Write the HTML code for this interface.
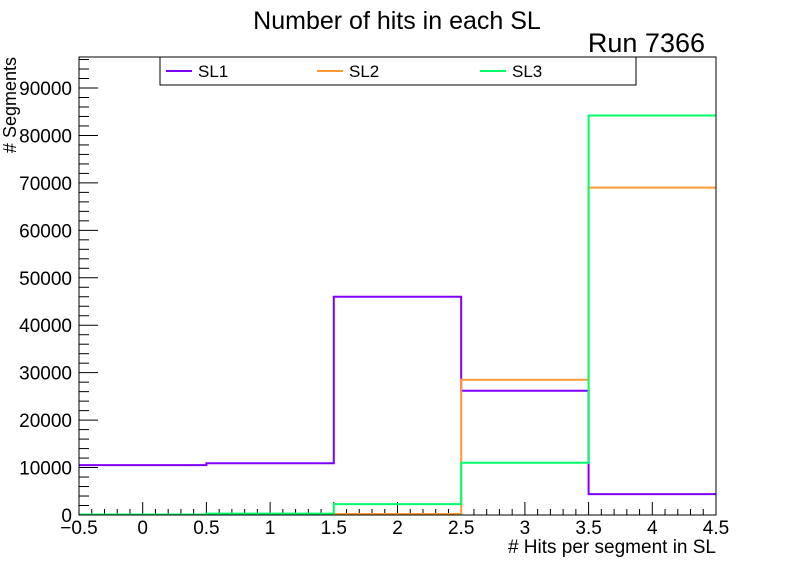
<!DOCTYPE html>
<html><head><meta charset="utf-8"><style>
body{margin:0;background:#fff;}
svg{display:block;font-family:"Liberation Sans",Arial,sans-serif;}
</style></head><body>
<svg id="c" width="796" height="572">
<rect width="796" height="572" fill="#fff"/>
<text x="397" y="29" font-size="25" text-anchor="middle">Number of hits in each SL</text>
<text x="705" y="52" font-size="27" text-anchor="end">Run 7366</text>
<g id="axes"></g>
<g id="series"></g>
<rect x="79" y="57" width="637" height="458" fill="none" stroke="#000" stroke-width="1"/>
<g>
<rect x="160" y="57" width="476" height="28" fill="#fff" stroke="#000"/>
<g><line x1="166" y1="71" x2="192" y2="71" stroke="#8000ff" stroke-width="2"/><text x="198" y="77" font-size="17">SL1</text></g>
<g><line x1="317" y1="71" x2="343" y2="71" stroke="#ff9933" stroke-width="2"/><text x="349" y="77" font-size="17">SL2</text></g>
<g><line x1="480" y1="71" x2="506" y2="71" stroke="#00ff66" stroke-width="2"/><text x="512" y="77" font-size="17">SL3</text></g>
</g>
<text x="716" y="553" font-size="19" text-anchor="end"># Hits per segment in SL</text>
<text transform="translate(16,57) rotate(-90)" font-size="18" text-anchor="end"># Segments</text>
</svg>
<script>
const binCenters=[0,1,2,3,4];
const sl1=[10500,10900,46000,26200,4400];
const sl2=[100,150,200,28500,69000];
const sl3=[100,300,2300,11000,84200];
const yTicks=[0,10000,20000,30000,40000,50000,60000,70000,80000,90000];
const xTicks=[-0.5,0,0.5,1,1.5,2,2.5,3,3.5,4,4.5];
const NS="http://www.w3.org/2000/svg";
const X0=79,X1=716,Y0=515,Y1=57;
const xs=v=>X0+(v+0.5)/5*(X1-X0);
const ys=v=>Y0-v/90000*(Y0-88);
function mk(t,a,p){const e=document.createElementNS(NS,t);for(const k in a)e.setAttribute(k,a[k]);p.appendChild(e);return e;}
const ax=document.getElementById('axes');
yTicks.forEach(v=>{
  const t=mk('text',{x:72,y:ys(v)+7,'font-size':19,'text-anchor':'end'},ax);t.textContent=v;
  
  
});
for(let v=0;v<=96000;v+=2000){const y=ys(v);if(y<Y1)break;const L=v%10000===0?19:10;mk('line',{x1:X0,y1:y,x2:X0+L,y2:y,stroke:'#000'},ax);}
xTicks.forEach(v=>{
  const t=mk('text',{x:xs(v),y:534,'font-size':19,'text-anchor':'middle'},ax);t.textContent=(v<0?'\u2212'+(-v):v);
  
  
});
for(let i=0;i<=50;i++){const v=-0.5+i*0.1;const x=xs(v);const L=i%5===0?13:6;mk('line',{x1:x,y1:Y0,x2:x,y2:Y0-L,stroke:'#000'},ax);}
const sg=document.getElementById('series');
function step(data,color,name){
  let d='';
  data.forEach((v,i)=>{d+=(i===0?'M':' L')+xs(binCenters[i]-0.5)+','+ys(v)+' L'+xs(binCenters[i]+0.5)+','+ys(v);});
  const p=mk('path',{d:d,fill:'none',stroke:color,'stroke-width':2},sg);
  
  
}
step(sl1,'#8000ff','series-sl1');
step(sl2,'#ff9933','series-sl2');
step(sl3,'#00ff66','series-sl3');
</script>
</body></html>
